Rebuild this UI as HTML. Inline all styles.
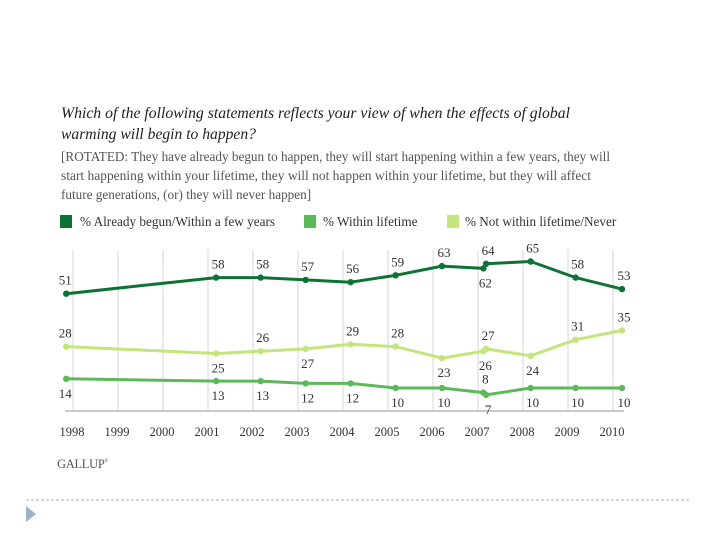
<!DOCTYPE html>
<html><head><meta charset="utf-8"><style>
body{margin:0;background:#fff;width:720px;height:540px;overflow:hidden;font-family:"Liberation Serif",serif}
svg{position:absolute;left:0;top:0}
</style></head><body>
<svg id="c" width="720" height="540">
<text x="61" y="118" font-size="15.6" font-style="italic" fill="#222" textLength="509" lengthAdjust="spacingAndGlyphs">Which of the following statements reflects your view of when the effects of global</text>
<text x="61" y="139" font-size="15.6" font-style="italic" fill="#222">warming will begin to happen?</text>
<g font-size="13.2" fill="#555">
<text x="61" y="161" textLength="549" lengthAdjust="spacingAndGlyphs">[ROTATED: They have already begun to happen, they will start happening within a few years, they will</text>
<text x="61" y="180" textLength="530" lengthAdjust="spacingAndGlyphs">start happening within your lifetime, they will not happen within your lifetime, but they will affect</text>
<text x="61" y="199">future generations, (or) they will never happen]</text>
</g>
<g font-size="13.2" fill="#333">
<rect x="60" y="215" width="12" height="13" fill="#0d7335"/>
<text x="80" y="226" textLength="195" lengthAdjust="spacingAndGlyphs">% Already begun/Within a few years</text>
<rect x="304" y="215" width="12" height="13" fill="#5db85a"/>
<text x="323" y="226">% Within lifetime</text>
<rect x="447" y="215" width="12" height="13" fill="#c4e57c"/>
<text x="465" y="226">% Not within lifetime/Never</text>
</g>
<g id="grid"></g><g id="series"></g><g id="labels"></g><g id="xt"></g>
<text x="57" y="468" font-size="12.5" fill="#555" letter-spacing="-0.3">GALLUP<tspan font-size="5" dy="-6">®</tspan></text>
<line x1="26" y1="500" x2="690" y2="500" stroke="#9fb0c0" stroke-width="1" stroke-dasharray="3,2"/>
<polygon points="26,506 36,514 26,522" fill="#9fb2c8"/>
</svg>
<script>
const years=[1998,1999,2000,2001,2002,2003,2004,2005,2006,2007,2008,2009,2010];
const pollTimes=[1997.85,2001.18,2002.17,2003.17,2004.17,2005.17,2006.2,2007.12,2007.18,2008.17,2009.17,2010.2];
const alreadyVals=[51,58,58,57,56,59,63,62,64,65,58,53];
const lifetimeVals=[14,13,13,12,12,10,10,8,7,10,10,10];
const neverVals=[28,25,26,27,29,28,23,26,27,24,31,35];
const alreadyPos=['u','u','u','u','u','u','u','d','u','u','u','u'];
const lifetimePos=['d','d','d','d','d','d','d','u','d','d','d','d'];
const neverPos=['u','d','u','d','u','u','d','d','u','d','u','u'];
const NS='http://www.w3.org/2000/svg';
function X(t){return 73+(t-1998)*45;}
function Y(v){return 411-v*2.3;}
function mk(tag,attrs,parent){const e=document.createElementNS(NS,tag);for(const k in attrs)e.setAttribute(k,attrs[k]);parent.appendChild(e);return e;}
const grid=document.getElementById('grid'),xt=document.getElementById('xt');
years.forEach(y=>{
  const l=mk('line',{x1:X(y),x2:X(y),y1:250,y2:411,stroke:'#d4d4d4','stroke-width':1},grid);
  
  
  const t=mk('text',{x:X(y)-1,y:436,'font-size':12.5,fill:'#333','text-anchor':'middle'},xt);
  t.textContent=y;
  
  
});
const ax=mk('line',{x1:65,x2:624,y1:411,y2:411,stroke:'#c8c8c8','stroke-width':2},grid);


const sg=document.getElementById('series'),lg=document.getElementById('labels');
function draw(vals,pos,color,name){
  const g=mk('g',{},sg);
  
  
  const pts=vals.map((v,i)=>X(pollTimes[i])+','+Y(v)).join(' ');
  const pl=mk('polyline',{points:pts,fill:'none',stroke:color,'stroke-width':3,'stroke-linejoin':'round'},g);
  
  
  vals.forEach((v,i)=>{
    const c=mk('circle',{cx:X(pollTimes[i]),cy:Y(v),r:3.2,fill:color},g);
    
    
    const up=pos[i]==='u';
    const t=mk('text',{x:X(pollTimes[i])+(i===0?-1:2),y:up?Y(v)-9:Y(v)+19,'font-size':13,fill:'#333','text-anchor':'middle'},lg);
    t.textContent=v;
    
    
  });
}
draw(neverVals,neverPos,'#c4e57c','never');
draw(lifetimeVals,lifetimePos,'#5db85a','lifetime');
draw(alreadyVals,alreadyPos,'#0d7335','already');
</script>
</body></html>
